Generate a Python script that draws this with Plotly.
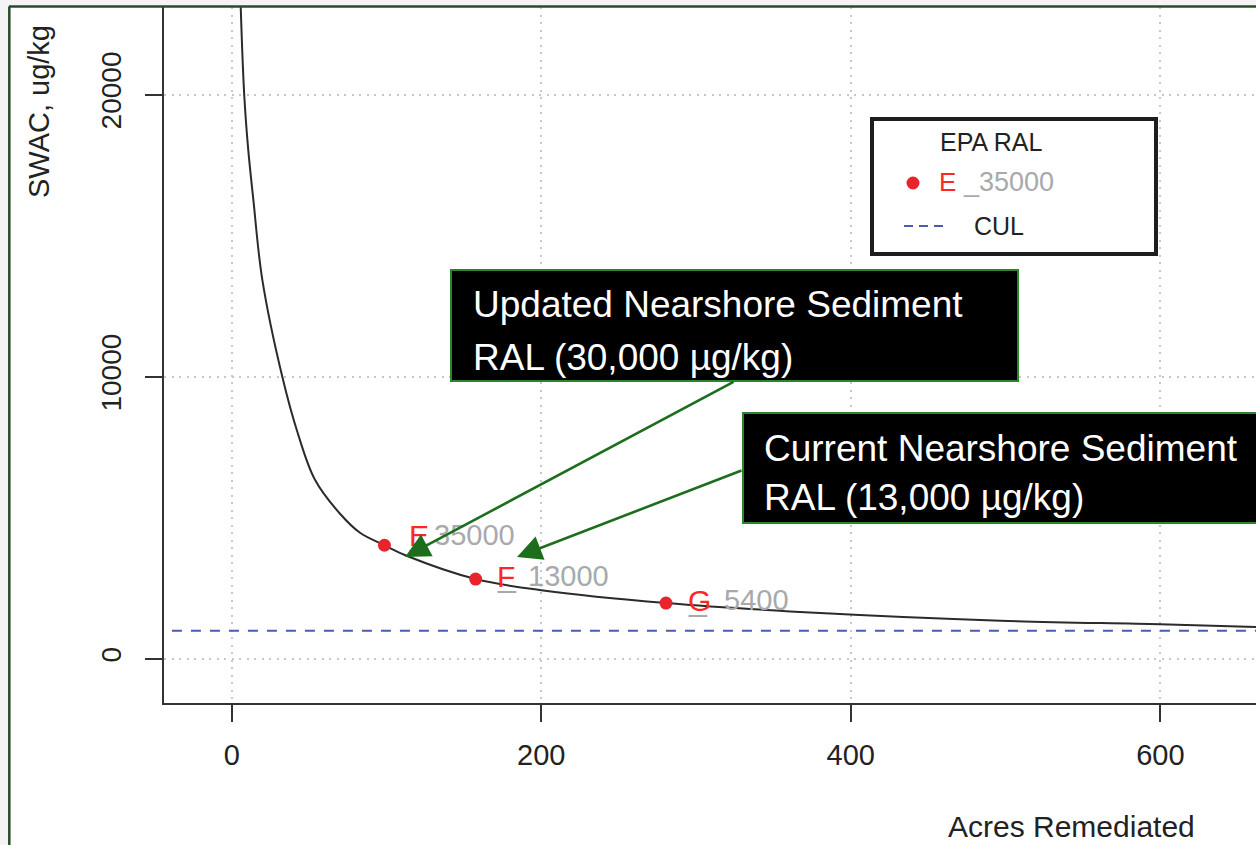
import plotly.graph_objects as go

# ---------------- data ----------------
curve_x = [5.8, 8.1, 10.7, 14.0, 19.8, 32.7, 42.8, 53.8, 70.0, 82.9, 98.7, 113, 157.6, 201.3, 280.6, 380.2, 496.7, 599.8, 661.8]
curve_y = [23142, 19990, 18041, 16270, 13436, 10000, 7981, 6352, 5147, 4474, 4031, 3659, 2834, 2430, 1984, 1629, 1357, 1230, 1134]

pts_x = [98.7, 157.6, 280.6]
pts_y = [4031, 2834, 1984]
pts_letter = ["E", "F", "G"]
pts_ral = ["35000", "13000", "5400"]

cul_value = 1000

x_ticks = [0, 200, 400, 600]
x_ticktext = ["0", "200", "400", "600"]
y_ticks = [0, 10000, 20000]
y_ticktext = ["0", "10000", "20000"]

x_title = "Acres Remediated"
y_title = "SWAC, ug/kg"
legend_title = "EPA RAL"
legend_letter = "E"
legend_ral = "_35000"
legend_cul = "CUL"

box1_lines = ["Updated Nearshore Sediment", "RAL (30,000 \u00b5g/kg)"]
box2_lines = ["Current Nearshore Sediment", "RAL (13,000 \u00b5g/kg)"]

# ---------------- layout geometry / styles ----------------
W, H = 1256, 845
L, R, T, B = 164, 0, 7, 142
PW = W - L - R
PH = H - T - B


def X(px):
    return (px - L) / PW


def Y(py):
    return (H - B - py) / PH


FONT = "Liberation Sans, Arial, sans-serif"
RED = "#e8232b"
RED_TXT = "#ff2626"
GRAY_TXT = "#a7a9ad"
BLUE = "#4a5cae"
AXIS = "#333333"
GREEN_ARROW = "#1c6e1c"
GREEN_BOX = "#2a862a"

# label offsets (pixels) for the point labels
label_letter_dx = [23, 19, 20]
label_digits_dx = [48, 50, 56]
label_dy = [10, 3, 3]

fig = go.Figure()

fig.add_trace(go.Scatter(
    x=curve_x, y=curve_y, mode="lines",
    line=dict(color="#2b2b2b", width=2, shape="spline", smoothing=1.0),
    hoverinfo="skip", showlegend=False))

fig.add_trace(go.Scatter(
    x=[-100, 800], y=[cul_value, cul_value], mode="lines",
    line=dict(color=BLUE, width=2, dash="10px,9px"),
    hoverinfo="skip", showlegend=False))

fig.add_trace(go.Scatter(
    x=pts_x, y=pts_y, mode="markers",
    marker=dict(color=RED, size=13, line=dict(width=0)),
    hoverinfo="skip", showlegend=False))

annotations = []
shapes = []

# point labels
for i, (xv, yv, let, ral) in enumerate(zip(pts_x, pts_y, pts_letter, pts_ral)):
    annotations.append(dict(x=xv, y=yv, xref="x", yref="y", text="_",
                            showarrow=False, xanchor="left", yanchor="middle",
                            xshift=label_letter_dx[i], yshift=label_dy[i],
                            font=dict(family=FONT, size=32, color=GRAY_TXT)))
    annotations.append(dict(x=xv, y=yv, xref="x", yref="y", text=ral,
                            showarrow=False, xanchor="left", yanchor="middle",
                            xshift=label_digits_dx[i], yshift=label_dy[i],
                            font=dict(family=FONT, size=29, color=GRAY_TXT)))
    annotations.append(dict(x=xv, y=yv, xref="x", yref="y", text=let,
                            showarrow=False, xanchor="left", yanchor="middle",
                            xshift=label_letter_dx[i], yshift=label_dy[i],
                            font=dict(family=FONT, size=30, color=RED_TXT)))

# outer slide frame (white area with dark green border)
shapes.append(dict(type="rect", xref="paper", yref="paper",
                   x0=X(9), x1=X(1300), y0=Y(900), y1=Y(6.5),
                   fillcolor="white", line=dict(width=0), layer="below"))
shapes.append(dict(type="line", xref="paper", yref="paper",
                   x0=X(9), x1=X(1300), y0=Y(6.5), y1=Y(6.5),
                   line=dict(color="#2b4a2b", width=2.5), layer="above"))
shapes.append(dict(type="line", xref="paper", yref="paper",
                   x0=X(9.3), x1=X(9.3), y0=Y(6.5), y1=Y(900),
                   line=dict(color="#2b4a2b", width=2.5), layer="above"))

# legend box
shapes.append(dict(type="rect", xref="paper", yref="paper",
                   x0=X(872), x1=X(1156), y0=Y(254), y1=Y(119),
                   fillcolor="white", line=dict(color="#1e1e1e", width=4), layer="above"))
shapes.append(dict(type="circle", xref="paper", yref="paper",
                   x0=X(906.5), x1=X(919.5), y0=Y(189.5), y1=Y(176.5),
                   fillcolor=RED, line=dict(width=0), layer="above"))
shapes.append(dict(type="line", xref="paper", yref="paper",
                   x0=X(904), x1=X(944), y0=Y(226), y1=Y(226),
                   line=dict(color=BLUE, width=2, dash="9px,6px"), layer="above"))
annotations.append(dict(x=X(991), y=Y(142), xref="paper", yref="paper", text=legend_title,
                        showarrow=False, xanchor="center", yanchor="middle",
                        font=dict(family=FONT, size=25, color="#222222")))
annotations.append(dict(x=X(937), y=Y(182), xref="paper", yref="paper", text=legend_letter,
                        showarrow=False, xanchor="left", yanchor="middle",
                        font=dict(family=FONT, size=26, color=RED_TXT)))
annotations.append(dict(x=X(961), y=Y(182), xref="paper", yref="paper", text=legend_ral,
                        showarrow=False, xanchor="left", yanchor="middle",
                        font=dict(family=FONT, size=27, color=GRAY_TXT)))
annotations.append(dict(x=X(972), y=Y(226), xref="paper", yref="paper", text=legend_cul,
                        showarrow=False, xanchor="left", yanchor="middle",
                        font=dict(family=FONT, size=25, color="#222222")))

# callout boxes
shapes.append(dict(type="rect", xref="paper", yref="paper",
                   x0=X(451), x1=X(1018), y0=Y(381), y1=Y(270),
                   fillcolor="black", line=dict(color=GREEN_BOX, width=2), layer="above"))
shapes.append(dict(type="rect", xref="paper", yref="paper",
                   x0=X(743), x1=X(1300), y0=Y(523), y1=Y(413),
                   fillcolor="black", line=dict(color=GREEN_BOX, width=2), layer="above"))
for line_txt, cy in zip(box1_lines, [305, 357]):
    annotations.append(dict(x=X(471), y=Y(cy), xref="paper", yref="paper", text=line_txt,
                            showarrow=False, xanchor="left", yanchor="middle",
                            font=dict(family=FONT, size=37, color="white")))
for line_txt, cy in zip(box2_lines, [448, 497]):
    annotations.append(dict(x=X(762), y=Y(cy), xref="paper", yref="paper", text=line_txt,
                            showarrow=False, xanchor="left", yanchor="middle",
                            font=dict(family=FONT, size=37, color="white")))

# arrows
for tip, start in [((405, 557), (735, 381)), ((517, 557), (743, 470))]:
    annotations.append(dict(x=X(tip[0]), y=Y(tip[1]), xref="paper", yref="paper",
                            ax=start[0] - tip[0], ay=start[1] - tip[1],
                            axref="pixel", ayref="pixel", text="", showarrow=True,
                            arrowhead=2, arrowsize=1.9, arrowwidth=2.6, arrowcolor=GREEN_ARROW,
                            standoff=0, startstandoff=0))

# axis titles (as text, since the original plot is cropped)
annotations.append(dict(x=X(1071), y=Y(826), xref="paper", yref="paper", text=x_title,
                        showarrow=False, xanchor="center", yanchor="middle",
                        font=dict(family=FONT, size=30, color="#222222")))
annotations.append(dict(x=X(39), y=Y(112), xref="paper", yref="paper", text=y_title,
                        showarrow=False, xanchor="center", yanchor="middle", textangle=-90,
                        font=dict(family=FONT, size=29, color="#222222")))

x_lo = (164 - 231.7) / 1.5477
x_hi = (1256 - 231.7) / 1.5477
y_lo = (659.3 - 703.3) / 0.02823
y_hi = (659.3 - 7) / 0.02823

fig.update_layout(
    width=W, height=H,
    margin=dict(l=L, r=R, t=T, b=B, pad=0),
    paper_bgcolor="#f4f4f4",
    plot_bgcolor="rgba(0,0,0,0)",
    font=dict(family=FONT, size=29, color="#222222"),
    showlegend=False,
    shapes=shapes,
    annotations=annotations,
    xaxis=dict(range=[x_lo, x_hi], tickmode="array", tickvals=x_ticks, ticktext=x_ticktext,
               showline=True, linecolor=AXIS, linewidth=2, mirror=False,
               ticks="outside", ticklen=17, tickwidth=2, tickcolor=AXIS,
               tickfont=dict(family=FONT, size=29, color="#222222"),
               ticklabelstandoff=8,
               showgrid=True, gridcolor="#c8c8c8", gridwidth=2, griddash="2px,5.5px",
               zeroline=False, fixedrange=True),
    yaxis=dict(range=[y_lo, y_hi], tickmode="array", tickvals=y_ticks, ticktext=y_ticktext,
               showline=True, linecolor=AXIS, linewidth=2, mirror=False,
               ticks="outside", ticklen=17, tickwidth=2, tickcolor=AXIS,
               tickangle=-90,
               tickfont=dict(family=FONT, size=28, color="#222222"),
               ticklabelstandoff=13,
               showgrid=True, gridcolor="#c8c8c8", gridwidth=2, griddash="2px,5.5px",
               zeroline=False, fixedrange=True),
)

fig.write_html("out.html", config={"displayModeBar": False},
               post_script="document.body.style.margin='0px';document.body.style.overflow='hidden';")
